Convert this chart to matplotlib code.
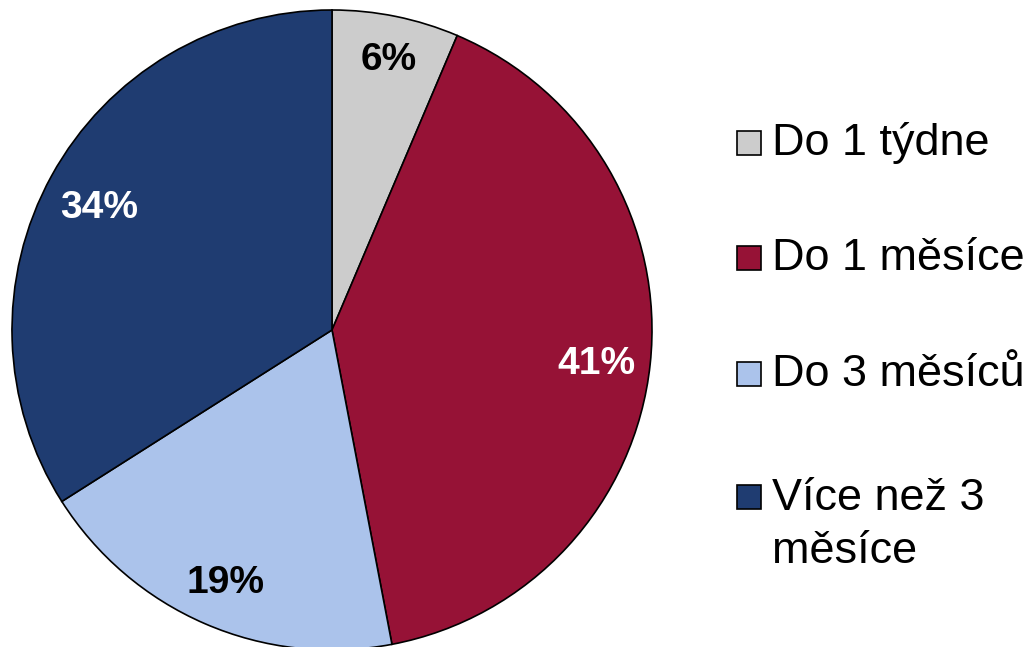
import numpy as np
import matplotlib.pyplot as plt
from matplotlib.patches import Rectangle

plt.rcParams['font.family'] = ['Liberation Sans', 'DejaVu Sans']

# data
labels = ['Do 1 týdne', 'Do 1 měsíce', 'Do 3 měsíců', 'Více než 3\nměsíce']
shares = [6.4, 40.6, 19.0, 34.0]
colors = ['#cccccc', '#961236', '#abc3eb', '#1f3c71']
pct_colors = ['black', 'white', 'black', 'white']
pct_dist = [0.88, 0.83, 0.84, 0.83]

W, H = 1035, 647
fig = plt.figure(figsize=(W / 100, H / 100), dpi=100)

# pie axes: centre (332, 330) px from top, radius 320 px
cx, cy, r = 332, 330, 320
ax = fig.add_axes([(cx - r) / W, (H - cy - r) / H, 2 * r / W, 2 * r / H])
wedges, texts, autotexts = ax.pie(shares, colors=colors, startangle=90, counterclock=False,
                                  autopct='%.0f%%', pctdistance=0.83,
                                  wedgeprops=dict(edgecolor='black', linewidth=1.2))
for w, t, c, d in zip(wedges, autotexts, pct_colors, pct_dist):
    t.set_color(c)
    t.set_fontsize(28)
    t.set_fontweight('bold')
    ang = np.deg2rad((w.theta1 + w.theta2) / 2)
    t.set_position((d * np.cos(ang), d * np.sin(ang) - 6 / r))
ax.set_xlim(-1, 1)
ax.set_ylim(-1, 1)
ax.set_aspect('equal')

# legend drawn by hand (marker aligned with the first line of text)
font_px = 45
line_h = 56
row_y = [143, 258, 374, 497]  # first-line centres, px from top
for lab, col, y in zip(labels, colors, row_y):
    sq = 24
    fig.patches.append(Rectangle((737 / W, (H - y - sq / 2) / H), sq / W, sq / H,
                                 transform=fig.transFigure, facecolor=col,
                                 edgecolor='black', linewidth=1.2))
    n = lab.count('\n') + 1
    yc = y + (n - 1) * line_h / 2
    fig.text(772 / W, (H - yc) / H, lab, fontsize=font_px * 0.72, va='center', ha='left',
             linespacing=1.4)

fig.savefig('out.png', dpi=100)
plt.close()
